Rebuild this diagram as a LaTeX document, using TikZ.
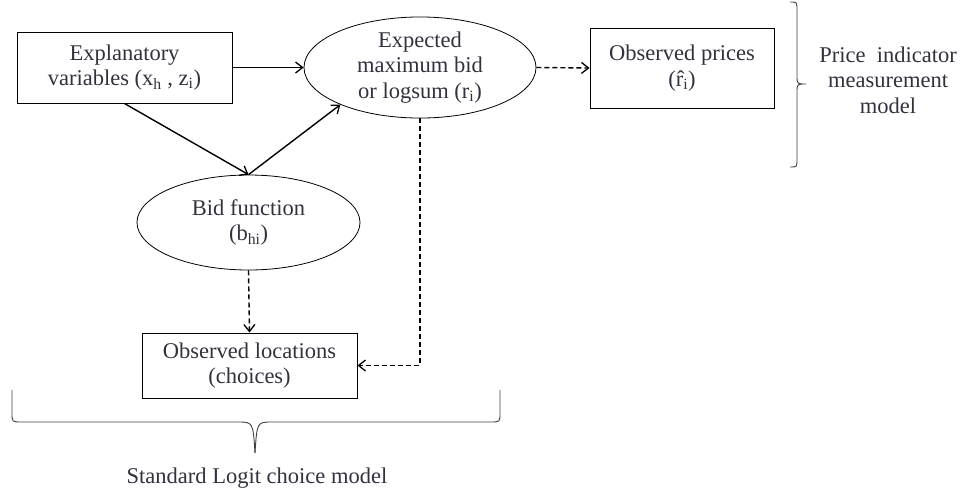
\documentclass[tikz,border=0pt]{standalone}
\usepackage{fontspec}
\setmainfont{Liberation Serif}
\usetikzlibrary{shapes.geometric,arrows.meta}
\definecolor{txt}{RGB}{50,50,62}
\begin{document}
\begin{tikzpicture}[x=1pt,y=-1pt,
  lbl/.style={font=\fontsize{22.5}{25.5}\selectfont, text=txt, align=center, inner sep=0pt},
  boxnode/.style={lbl, draw=black, line width=1pt, rectangle},
  ellnode/.style={lbl, draw=black, line width=0.8pt, ellipse},
  solidarrow/.style={line width=1.4pt, -{Straight Barb[length=7pt,width=11pt,line width=1.3pt]}},
  dasharrow/.style={line width=1.4pt, dash pattern=on 5pt off 3pt, -{Straight Barb[length=7pt,width=11pt,line width=1.3pt]}},
  bracestyle/.style={line width=0.9pt, draw=black!75}]
\useasboundingbox (0,0) rectangle (966,499);

\node[boxnode, minimum width=215pt, minimum height=71pt] (ex) at (124.5,67.5)
  {Explanatory\\variables (x\textsubscript{h} , z\textsubscript{i})};
\node[ellnode, minimum width=232pt, minimum height=101pt] (exp) at (420,67.5)
  {Expected\\maximum bid\\or logsum (r\textsubscript{i})};
\node[boxnode, minimum width=184pt, minimum height=80pt] (pr) at (682,68)
  {Observed prices\\(\^{r}\textsubscript{i})};
\node[ellnode, minimum width=223pt, minimum height=95pt] (bid) at (248.5,222.5)
  {Bid function\\(b\textsubscript{hi})};
\node[boxnode, minimum width=215pt, minimum height=65pt] (loc) at (249.5,365.5)
  {Observed locations\\(choices)};

\node[lbl] (pim) at (888,80) {Price\ \ indicator\\measurement\\model};
\node[lbl] (slc) at (257,478) {Standard Logit choice model};

\draw[solidarrow] (ex.east) -- (exp.west);
\draw[solidarrow] (ex.south) -- (bid.north);
\draw[solidarrow] (bid.north) -- (exp.205);
\draw[dasharrow] (exp.east) -- (pr.west);
\draw[dasharrow] (bid.south) -- (loc.north);
\draw[dasharrow] (exp.south) |- (loc.east);

% right brace
\draw[bracestyle] (790,2) .. controls (797,2) .. (797,10) -- (797,76)
  .. controls (797,84) .. (806,84) .. controls (797,84) .. (797,92)
  -- (797,159) .. controls (797,167) .. (790,167);
% bottom brace
\coordinate (btip) at (255,453);
\draw[bracestyle] (12,390) -- (12,413) .. controls (12,422) .. (22,422) -- (238,422)
  .. controls (253,422) .. (btip);
\draw[bracestyle] (500,390) -- (500,413) .. controls (500,422) .. (490,422) -- (272,422)
  .. controls (257,422) .. (btip);
\end{tikzpicture}
\end{document}
